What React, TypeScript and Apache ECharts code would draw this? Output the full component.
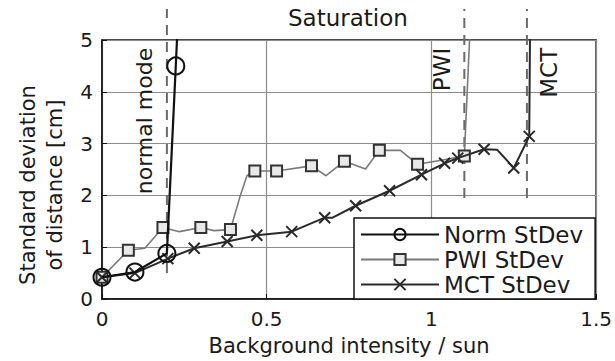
import React, { useEffect, useRef } from "react";
import * as echarts from "echarts";

// x: background intensity (sun), y: standard deviation (cm); marked = symbol drawn
const normX = [0, 0.1, 0.197, 0.224, 0.232];
const normY = [0.42, 0.52, 0.88, 4.5, 5.6];
const normMarked = [true, true, true, true, false];

const pwiX = [0, 0.08, 0.13, 0.185, 0.235, 0.3, 0.34, 0.39, 0.42, 0.44, 0.464, 0.53, 0.636, 0.68, 0.736, 0.8, 0.842, 0.906, 0.958, 1.03, 1.1, 1.12];
const pwiY = [0.42, 0.94, 0.98, 1.38, 1.3, 1.38, 1.32, 1.34, 2.0, 2.38, 2.47, 2.47, 2.57, 2.38, 2.66, 2.51, 2.87, 2.87, 2.6, 2.68, 2.76, 5.6];
const pwiMarked = [true, true, false, true, false, true, false, true, false, false, true, true, true, false, true, false, true, false, true, false, true, false];

const mctX = [0, 0.1, 0.2, 0.28, 0.38, 0.47, 0.576, 0.676, 0.7, 0.77, 0.873, 0.97, 1.04, 1.08, 1.16, 1.2, 1.25, 1.297, 1.3];
const mctY = [0.42, 0.5, 0.78, 0.98, 1.11, 1.23, 1.3, 1.57, 1.57, 1.8, 2.09, 2.4, 2.62, 2.72, 2.89, 2.88, 2.53, 3.14, 5.6];
const mctMarked = [true, true, true, true, true, true, true, true, false, true, true, true, true, true, true, false, true, true, false];

const seriesNames = ["Norm StDev", "PWI StDev", "MCT StDev"];

// saturation markers
const markerX = [0.197, 1.1, 1.29];
const markerBottom = [0.5, 1.95, 1.95];
const markerTop = 5.6;
const markerLabels = ["normal mode", "PWI", "MCT"];
const markerLabelY = 4.85;

const xTicks = { min: 0, max: 1.5, interval: 0.5 };
const yTicks = { min: 0, max: 5, interval: 1 };

const FONT = "DejaVu Sans";
const TXT = "#1a1a1a";

function build(xs: number[], ys: number[], marked: boolean[]) {
  return xs.map((x, i) => (marked[i] ? { value: [x, ys[i]] } : { value: [x, ys[i]], symbol: "none" }));
}

export default function App() {
  const ref = useRef<HTMLDivElement>(null);
  useEffect(() => {
    if (!ref.current) return;
    const chart = echarts.init(ref.current, null, { renderer: "svg" });
    const axisCommon = {
      type: "value" as const,
      axisLine: { show: true, lineStyle: { color: "#111", width: 1.5 } },
      axisTick: { show: true, inside: true, length: 5, lineStyle: { color: "#111", width: 1 } },
      splitLine: { show: true, lineStyle: { color: "#8c8c8c", width: 1.2 } },
    };
    chart.setOption({
      animation: false,
      backgroundColor: "#fff",
      textStyle: { fontFamily: FONT, color: TXT },
      grid: { left: 102, right: 18, top: 40, bottom: 60, show: true, borderColor: "#111", borderWidth: 1.5 },
      xAxis: {
        ...axisCommon,
        ...xTicks,
        name: "Background intensity / sun",
        nameLocation: "middle",
        nameGap: 36,
        nameTextStyle: { fontSize: 21, color: TXT, fontFamily: FONT },
        axisLabel: { fontSize: 20, color: TXT, margin: 10, fontFamily: FONT },
      },
      yAxis: {
        ...axisCommon,
        ...yTicks,
        axisLabel: { fontSize: 20, color: TXT, margin: 9, fontFamily: FONT },
      },
      legend: {
        data: seriesNames,
        orient: "vertical",
        left: 354,
        top: 218,
        itemWidth: 78,
        itemHeight: 14,
        itemGap: 2,
        padding: [5, 12, 3, 6],
        borderColor: "#111",
        borderWidth: 1.5,
        borderRadius: 0,
        backgroundColor: "#fff",
        textStyle: { fontSize: 23, color: TXT, fontFamily: FONT },
      },
      graphic: [
        {
          type: "text",
          left: 348 - 60,
          top: 6,
          style: { text: "Saturation", fontSize: 23, fill: TXT, fontFamily: FONT },
        },
        {
          type: "text",
          x: 41,
          y: 185,
          rotation: Math.PI / 2,
          style: {
            text: "Standard deviation\nof distance [cm]",
            fontSize: 21,
            lineHeight: 27,
            fill: TXT,
            fontFamily: FONT,
            align: "center",
            verticalAlign: "middle",
          },
        },
      ],
      series: [
        {
          type: "custom",
          name: "markers",
          clip: false,
          silent: true,
          z: 1,
          data: markerX.map((x, i) => [x, markerBottom[i]]),
          renderItem: (params: any, api: any) => {
            const i = params.dataIndex;
            const x = api.value(0);
            const p0 = api.coord([x, api.value(1)]);
            const p1 = api.coord([x, markerTop]);
            const pl = api.coord([x, markerLabelY]);
            const side = i === 2 ? 1 : -1;
            return {
              type: "group",
              children: [
                {
                  type: "line",
                  shape: { x1: p0[0], y1: p0[1], x2: p1[0], y2: p1[1] },
                  style: { stroke: "#6a6a6a", lineWidth: 2, lineDash: [10, 7] },
                },
                {
                  type: "text",
                  x: pl[0] + side * 22,
                  y: pl[1],
                  rotation: Math.PI / 2,
                  style: {
                    text: markerLabels[i],
                    fontSize: i === 0 ? 22 : 23,
                    fill: TXT,
                    fontFamily: FONT,
                    align: "right",
                    verticalAlign: "middle",
                  },
                },
              ],
            };
          },
        },
        {
          type: "line",
          name: seriesNames[1],
          data: build(pwiX, pwiY, pwiMarked),
          showAllSymbol: true,
          symbol: "rect",
          symbolSize: 11,
          z: 3,
          lineStyle: { color: "#7a7a7a", width: 1.6 },
          itemStyle: { color: "#e8e8e8", borderColor: "#333", borderWidth: 2 },
        },
        {
          type: "line",
          name: seriesNames[2],
          data: build(mctX, mctY, mctMarked),
          showAllSymbol: true,
          symbol: "path://M0,0L10,10M10,0L0,10",
          symbolSize: 11,
          z: 4,
          lineStyle: { color: "#2a2a2a", width: 2 },
          itemStyle: { color: "#2a2a2a", borderColor: "#2a2a2a", borderWidth: 2 },
        },
        {
          type: "line",
          name: seriesNames[0],
          data: build(normX, normY, normMarked),
          showAllSymbol: true,
          symbol: "circle",
          symbolSize: 17,
          z: 5,
          lineStyle: { color: "#111", width: 2.2 },
          itemStyle: { color: "rgba(0,0,0,0)", borderColor: "#111", borderWidth: 2 },
        },
      ],
    });
    return () => chart.dispose();
  }, []);
  return <div ref={ref} style={{ width: 615, height: 361, position: "absolute", left: 0, top: 0 }} />;
}
